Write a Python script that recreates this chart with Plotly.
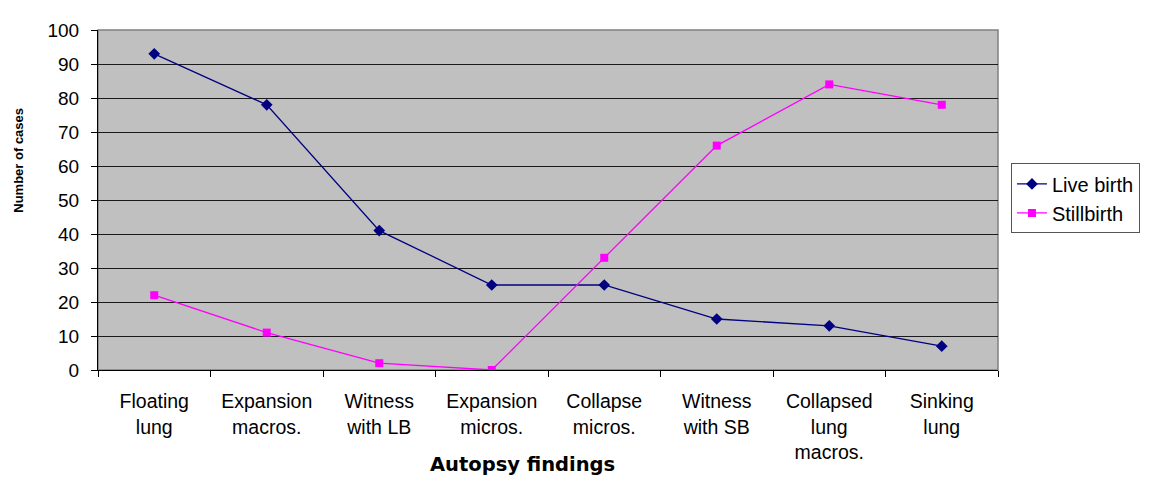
import plotly.graph_objects as go

categories = ["Floating<br>lung", "Expansion<br>macros.", "Witness<br>with LB", "Expansion<br>micros.",
              "Collapse<br>micros.", "Witness<br>with SB", "Collapsed<br>lung<br>macros.", "Sinking<br>lung"]
live_birth = [93, 78, 41, 25, 25, 15, 13, 7]
stillbirth = [22, 11, 2, 0, 33, 66, 84, 78]
y_ticks = list(range(0, 101, 10))

OFF = 8  # page body margin
W, H = 1152 - OFF, 479 - OFF
L, R, T, B = 98 - OFF, 1000 - OFF, 21 - OFF, 370 - OFF


def px(xp):
    return (xp - OFF - L) / (R - L)


def py(yp):
    return (B - (yp - OFF)) / (B - T)


fig = go.Figure()
fig.add_trace(go.Scatter(x=categories, y=live_birth, name="Live birth", mode="lines+markers",
                         line=dict(color="#000080", width=1.3),
                         marker=dict(symbol="diamond", size=9, color="#000080")))
fig.add_trace(go.Scatter(x=categories, y=stillbirth, name="Stillbirth", mode="lines+markers",
                         line=dict(color="#FF00FF", width=1.3),
                         marker=dict(symbol="square", size=8, color="#FF00FF")))

fig.update_layout(
    width=W, height=H,
    margin=dict(l=L, r=W - R, t=T, b=H - B),
    paper_bgcolor="white", plot_bgcolor="#C0C0C0",
    font=dict(family="Liberation Sans, Arial, sans-serif", color="black", size=19),
    legend=dict(x=px(1013), y=py(158), xanchor="left", yanchor="top",
                bgcolor="white", bordercolor="#555555", borderwidth=1,
                font=dict(size=20), tracegroupgap=0),
    showlegend=True,
)
fig.update_xaxes(type="category", tickson="boundaries", ticks="outside", ticklen=6,
                 tickcolor="black", showline=True, linecolor="black", linewidth=1,
                 showgrid=False, range=[-0.5, 7.5], tickfont=dict(size=19.5),
                 ticklabelstandoff=14)
fig.update_yaxes(range=[0, 100], tickvals=y_ticks, ticks="outside", ticklen=6,
                 tickcolor="black", showline=True, linecolor="black", linewidth=1,
                 showgrid=True, gridcolor="#1a1a1a", gridwidth=1, zeroline=False,
                 tickfont=dict(size=19), ticklabelstandoff=8)

# plot area border (top/right)
fig.add_shape(type="rect", xref="paper", yref="paper", x0=0, x1=1, y0=0, y1=1,
              line=dict(color="#808080", width=1.5), layer="below")

fig.add_annotation(text="<b>Autopsy findings</b>", xref="paper", yref="paper",
                   x=px(523), y=py(467), showarrow=False,
                   font=dict(size=19.5, family="DejaVu Sans, Liberation Sans, sans-serif"),
                   xanchor="center", yanchor="middle")
fig.add_annotation(text="<b>Number of cases</b>", xref="paper", yref="paper",
                   x=px(18), y=py(155), showarrow=False, textangle=-90,
                   font=dict(size=13, family="Liberation Sans Narrow, Liberation Sans, sans-serif"),
                   xanchor="center", yanchor="middle")

fig.write_html("out.html")
